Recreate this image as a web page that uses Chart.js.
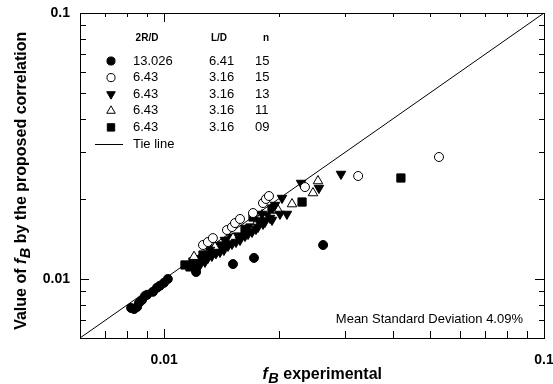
<!DOCTYPE html>
<html>
<head>
<meta charset="utf-8">
<script src="https://cdn.jsdelivr.net/npm/chart.js@4"></script>
<style>
  html, body { margin: 0; padding: 0; background: white; }
</style>
</head>
<body>
<canvas id="grafica" width="553" height="384"></canvas>
<script>
// 2R/D 13.026, L/D 6.41, n 15  (filled circle)
const circuloLlenoX = [0.00818, 0.00833, 0.00848, 0.00858, 0.00874, 0.00890, 0.00901, 0.00934, 0.00957, 0.00974, 0.00998, 0.01022, 0.01213, 0.01517, 0.01723, 0.0262]
const circuloLlenoY = [0.00778, 0.00771, 0.00785, 0.00813, 0.00834, 0.00864, 0.00872, 0.00895, 0.00927, 0.00943, 0.00967, 0.0100, 0.01062, 0.01138, 0.0120, 0.01342]
// 6.43, 3.16, 15 (open circle)
const circuloVacioX = [0.01265, 0.01303, 0.01343, 0.01463, 0.01508, 0.01536, 0.01583, 0.01713, 0.01820, 0.01853, 0.01887, 0.02347, 0.0324, 0.0529]
const circuloVacioY = [0.01342, 0.01377, 0.01425, 0.01528, 0.01568, 0.01623, 0.01681, 0.01770, 0.01930, 0.01999, 0.02051, 0.02216, 0.02439, 0.02875]
// 6.43, 3.16, 13 (filled down triangle)
const trianguloAbajoX = [0.01205, 0.01280, 0.01335, 0.01402, 0.01472, 0.01545, 0.01632, 0.01703, 0.01766, 0.01842, 0.01922, 0.02017, 0.02104, 0.01319, 0.01445, 0.01632, 0.01809, 0.01957, 0.02042, 0.02292, 0.02555, 0.0292,
    0.01242, 0.01303, 0.01368, 0.01436, 0.01508, 0.01583, 0.01662, 0.01744, 0.01820, 0.01899]
const trianguloAbajoY = [0.01100, 0.01159, 0.01220, 0.01263, 0.01331, 0.01377, 0.01450, 0.01502, 0.01569, 0.01638, 0.01666, 0.01755, 0.01755, 0.01285, 0.01401, 0.01555, 0.01755, 0.01897, 0.02015, 0.02295, 0.02197, 0.02481,
    0.01129, 0.01199, 0.01248, 0.01285, 0.01354, 0.01401, 0.01476, 0.01541, 0.01610, 0.01695]
// 6.43, 3.16, 11 (open up triangle)
const trianguloArribaX = [0.02540, 0.02464, 0.02170, 0.01993, 0.01198, 0.01518, 0.01734, 0.01360, 0.01809]
const trianguloArribaY = [0.02335, 0.02105, 0.01913, 0.01817, 0.01213, 0.01425, 0.01582, 0.01319, 0.01740]
// 6.43, 3.16, 09 (filled square)
const cuadradoX = [0.0420, 0.02306, 0.01922, 0.01713, 0.01169, 0.01190, 0.01134, 0.01265, 0.01385, 0.01508, 0.01632, 0.01766,
    0.01227, 0.01288, 0.01352, 0.01419, 0.01490, 0.01564, 0.01682, 0.01853]
const cuadradoY = [0.02397, 0.01947, 0.01832, 0.01710, 0.01110, 0.01159, 0.01129, 0.01231, 0.01319, 0.01425, 0.01515, 0.01638,
    0.01179, 0.01220, 0.01285, 0.01331, 0.01389, 0.01438, 0.01555, 0.01710]
// tie line
const lineaX = [0.006, 0.1]
const lineaY = [0.006, 0.1]

const leyendaRD = ["13.026", "6.43", "6.43", "6.43", "6.43"]
const leyendaLD = ["6.41", "3.16", "3.16", "3.16", "3.16"]
const leyendaN = ["15", "15", "13", "11", "09"]

const ticksMayores = [0.01, 0.1]
const ticksMenores = [0.007, 0.008, 0.009, 0.02, 0.03, 0.04, 0.05, 0.06, 0.07, 0.08, 0.09]

const fuente = "'Liberation Sans', Arial, sans-serif"

function puntos(xs, ys) {
    return xs.map((x, i) => ({ x: x, y: ys[i] }))
}

const estilos = [
    { pointStyle: "circle", radius: 4.5, rotation: 0, fill: "#000" },
    { pointStyle: "circle", radius: 4.5, rotation: 0, fill: "#fff" },
    { pointStyle: "triangle", radius: 5.5, rotation: 180, fill: "#000" },
    { pointStyle: "triangle", radius: 5.5, rotation: 0, fill: "#fff" },
    { pointStyle: "rect", radius: 5.8, rotation: 0, fill: "#000" }
]
const series = [
    puntos(circuloLlenoX, circuloLlenoY),
    puntos(circuloVacioX, circuloVacioY),
    puntos(trianguloAbajoX, trianguloAbajoY),
    puntos(trianguloArribaX, trianguloArribaY),
    puntos(cuadradoX, cuadradoY)
]

const datasets = series.map((data, i) => {
    const e = estilos[i]
    return {
        data,
        pointStyle: e.pointStyle,
        pointRadius: e.radius,
        pointRotation: e.rotation,
        pointBackgroundColor: e.fill,
        pointBorderColor: "#000",
        pointBorderWidth: 1,
        showLine: false,
        order: i
    }
})
datasets.push({
    type: "line",
    data: puntos(lineaX, lineaY),
    borderColor: "#000",
    borderWidth: 1,
    pointRadius: 0,
    showLine: true,
    fill: false,
    order: 10
})

// texto con f_B en cursiva
function tituloConF(ctx, antes, despues, x, y) {
    const normal = "bold 16px " + fuente
    const cursiva = "italic bold 16px " + fuente
    const sub = "italic bold 14.5px " + fuente
    ctx.font = normal
    const w1 = ctx.measureText(antes).width
    ctx.font = cursiva
    const w2 = ctx.measureText("f").width
    ctx.font = sub
    const w3 = ctx.measureText("B").width
    ctx.font = normal
    const w4 = ctx.measureText(despues).width
    let cx = x - (w1 + w2 + w3 + w4) / 2
    ctx.textAlign = "left"
    ctx.textBaseline = "middle"
    ctx.font = normal
    ctx.fillText(antes, cx, y)
    cx += w1
    ctx.font = cursiva
    ctx.fillText("f", cx, y)
    cx += w2 + 0.5
    ctx.font = sub
    ctx.fillText("B", cx, y + 4)
    cx += w3
    ctx.font = normal
    ctx.fillText(despues, cx, y)
}

const marco = {
    id: "marco",
    afterDraw(chart) {
        const ctx = chart.ctx
        const a = chart.chartArea
        const sx = chart.scales.x
        const sy = chart.scales.y
        ctx.save()
        ctx.strokeStyle = "#000"
        ctx.lineWidth = 1
        ctx.strokeRect(Math.round(a.left) + 0.5, Math.round(a.top) + 0.5, Math.round(a.right - a.left), Math.round(a.bottom - a.top))

        ctx.beginPath()
        const todos = ticksMenores.map(v => [v, false]).concat(ticksMayores.map(v => [v, true]))
        for (const [v, mayor] of todos) {
            const px = Math.round(sx.getPixelForValue(v)) + 0.5
            const py = Math.round(sy.getPixelForValue(v)) + 0.5
            const lb = mayor ? 9 : 7
            const lt = mayor ? 9 : 4
            const ll = mayor ? 9 : 6
            const lr = mayor ? 9 : 5
            ctx.moveTo(px, a.bottom); ctx.lineTo(px, a.bottom - lb)
            ctx.moveTo(px, a.top); ctx.lineTo(px, a.top + lt)
            ctx.moveTo(a.left, py); ctx.lineTo(a.left + ll, py)
            ctx.moveTo(a.right, py); ctx.lineTo(a.right - lr, py)
        }
        ctx.stroke()

        // leyenda en forma de tabla
        ctx.fillStyle = "#000"
        ctx.textBaseline = "middle"
        ctx.font = "bold 10px " + fuente
        ctx.textAlign = "center"
        ctx.fillText("2R/D", 147, 38)
        ctx.fillText("L/D", 219, 38)
        ctx.fillText("n", 266, 38)
        ctx.font = "13px " + fuente
        ctx.textAlign = "left"
        for (let i = 0; i < leyendaRD.length; i++) {
            const y = 61 + i * 16.6
            const e = estilos[i]
            ctx.fillStyle = e.fill
            ctx.strokeStyle = "#000"
            ctx.lineWidth = 1
            Chart.helpers.drawPoint(ctx, { pointStyle: e.pointStyle, radius: e.radius * 0.9, rotation: e.rotation, borderWidth: 1 }, 111, y)
            ctx.fillStyle = "#000"
            ctx.fillText(leyendaRD[i], 133, y)
            ctx.fillText(leyendaLD[i], 209, y)
            ctx.fillText(leyendaN[i], 255, y)
        }
        const yt = 61 + 5 * 16.6
        ctx.beginPath()
        ctx.moveTo(95, Math.round(yt) + 0.5)
        ctx.lineTo(123, Math.round(yt) + 0.5)
        ctx.stroke()
        ctx.fillText("Tie line", 133, yt)

        ctx.font = "13px " + fuente
        ctx.textAlign = "right"
        ctx.fillText("Mean Standard Deviation 4.09%", 523, 319)

        // titulos de ejes
        tituloConF(ctx, "", " experimental", 322, 375)
        ctx.translate(22, 181)
        ctx.rotate(-Math.PI / 2)
        tituloConF(ctx, "Value of ", " by the proposed correlation", 0, 0)
        ctx.restore()
    }
}

const ejeTicks = {
    color: "#000",
    font: { family: fuente, size: 14, weight: "bold" },
    callback: (v) => String(v)
}

const config = {
    type: "scatter",
    data: { datasets },
    options: {
        responsive: false,
        animation: false,
        events: [],
        layout: { padding: { top: 13, right: 9, left: 0, bottom: 0 } },
        plugins: { legend: { display: false }, tooltip: { enabled: false } },
        scales: {
            x: {
                type: "logarithmic",
                min: 0.006,
                max: 0.1,
                grid: { display: false, drawTicks: false },
                border: { display: false },
                ticks: Object.assign({ padding: 14, maxRotation: 0 }, ejeTicks),
                afterBuildTicks: (scale) => { scale.ticks = ticksMayores.map(v => ({ value: v })) },
                afterFit: (scale) => {
                    scale.height = 46
                    scale.paddingLeft = 0
                    scale.paddingRight = 0
                }
            },
            y: {
                type: "logarithmic",
                min: 0.006,
                max: 0.1,
                grid: { display: false, drawTicks: false },
                border: { display: false },
                ticks: Object.assign({ padding: 10 }, ejeTicks),
                afterBuildTicks: (scale) => { scale.ticks = ticksMayores.map(v => ({ value: v })) },
                afterFit: (scale) => {
                    scale.width = 80
                    scale.paddingTop = 0
                    scale.paddingBottom = 0
                }
            }
        }
    },
    plugins: [marco]
}

const chart = new Chart(document.getElementById("grafica"), config)
</script>
</body>
</html>
